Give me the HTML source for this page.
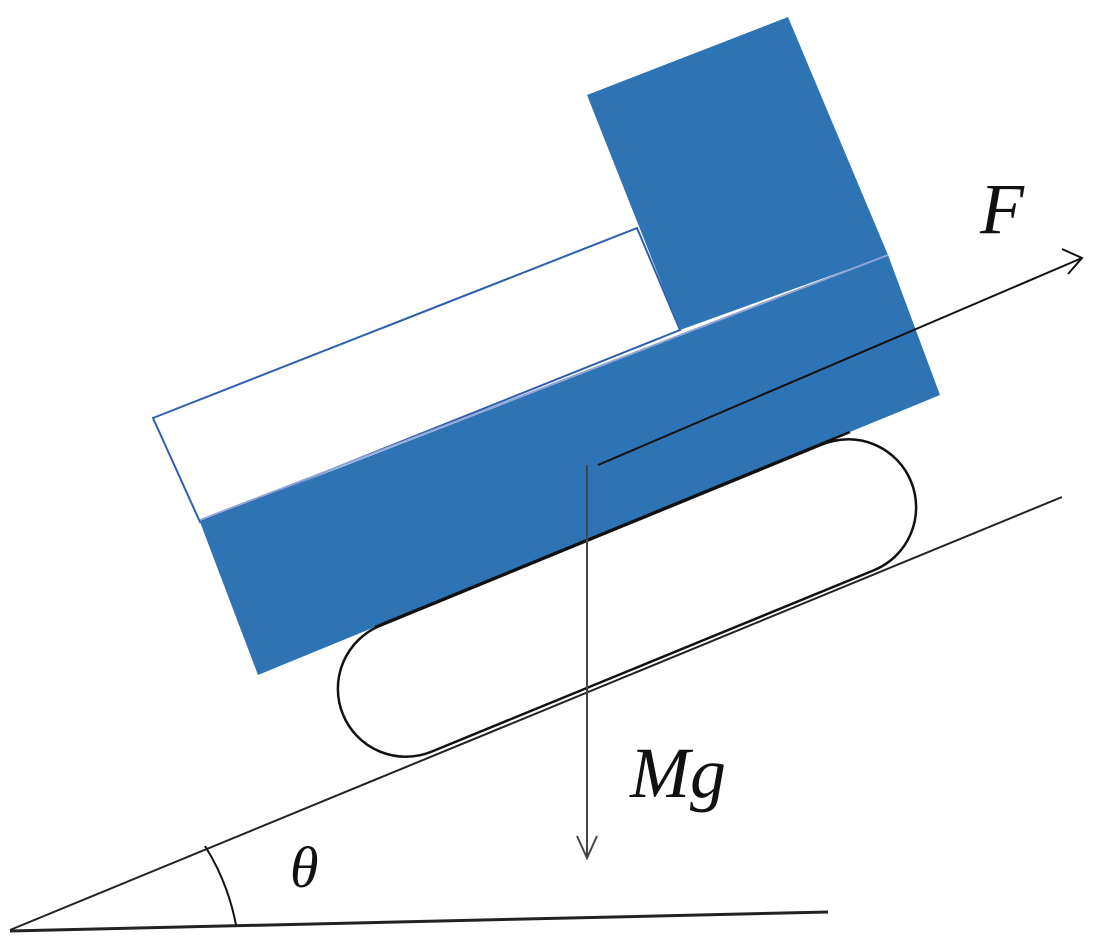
<!DOCTYPE html>
<html><head><style>html,body{margin:0;padding:0;background:#fff;}svg{display:block}</style></head>
<body>
<svg width="1097" height="943" viewBox="0 0 1097 943" xmlns="http://www.w3.org/2000/svg">
<line x1="10" y1="930" x2="1062" y2="497" stroke="#222" stroke-width="2"/>
<line x1="10" y1="931" x2="828" y2="912" stroke="#222" stroke-width="3"/>
<g transform="translate(627,598) rotate(-22.3)">
<rect x="-307" y="-68" width="614" height="136" rx="68" ry="68" fill="none" stroke="#111" stroke-width="2.5"/>
</g>
<polygon points="153,418 637,228 680,330 200,522" fill="#fff" stroke="#2e5fae" stroke-width="2"/>
<polygon points="587,95 788,17 888,255 680,330" fill="#2e74b5"/>
<polygon points="200,522 888,255 940,395 258,675" fill="#2e74b5"/>
<line x1="375" y1="627" x2="850" y2="432" stroke="#111" stroke-width="2.5"/>
<line x1="200" y1="520" x2="888" y2="255" stroke="#8fa6d6" stroke-width="2"/>
<line x1="598" y1="465" x2="1082" y2="258" stroke="#111" stroke-width="2"/>
<polyline points="1062,249 1082,258 1068,274" fill="none" stroke="#111" stroke-width="2"/>
<line x1="587" y1="465" x2="587" y2="858" stroke="#444" stroke-width="2"/>
<polyline points="577,836 587,858 597,836" fill="none" stroke="#444" stroke-width="2"/>
<path d="M 205 846 A 228 228 0 0 1 236 925" fill="none" stroke="#111" stroke-width="2"/>
<text x="980" y="233" font-family="Liberation Serif, serif" font-style="italic" font-size="72" fill="#111">F</text>
<text x="630" y="797" font-family="Liberation Serif, serif" font-style="italic" font-size="72" fill="#111">Mg</text>
<text x="290" y="887" font-family="Liberation Serif, serif" font-style="italic" font-size="58" fill="#111">θ</text>
</svg>
</body></html>
